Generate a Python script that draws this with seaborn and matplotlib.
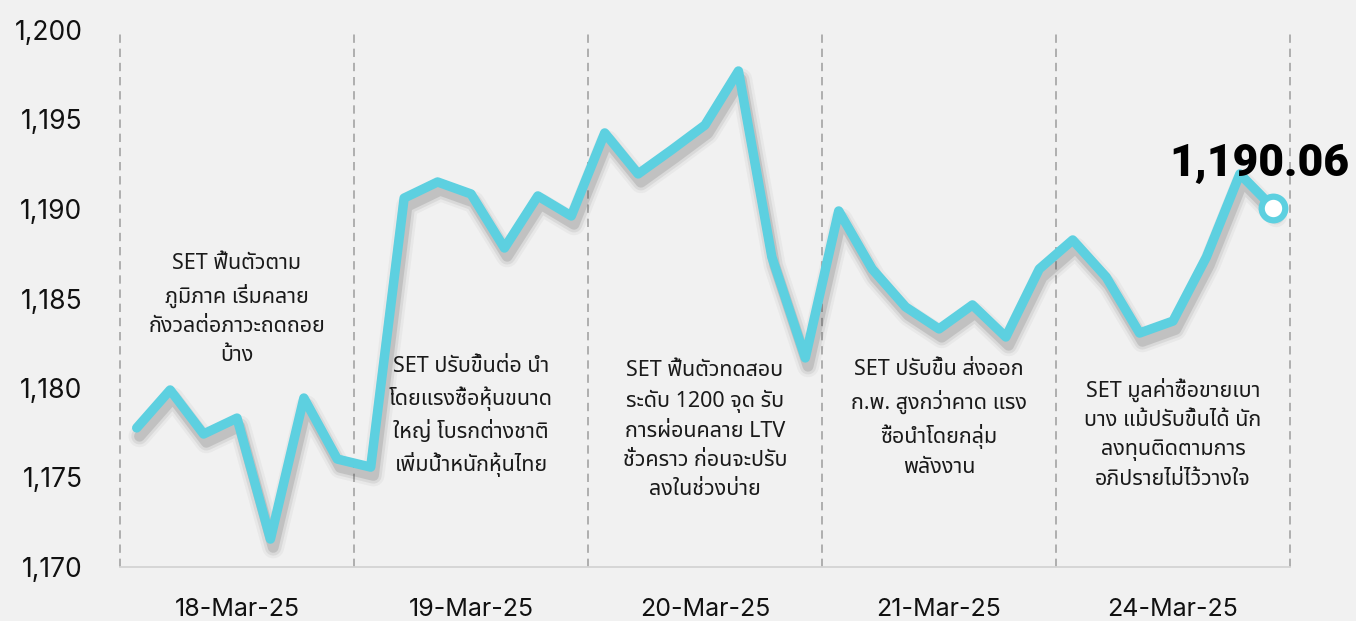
import numpy as np
import pandas as pd
import matplotlib
matplotlib.use("Agg")
import matplotlib.pyplot as plt
import matplotlib.patheffects as pe
from matplotlib import font_manager
from matplotlib.ft2font import FT2Font
import seaborn as sns

# ---------------- data ----------------
days = ["18-Mar-25", "19-Mar-25", "20-Mar-25", "21-Mar-25", "24-Mar-25"]
points_per_day = 7
set_index = [1177.77, 1179.89, 1177.43, 1178.32, 1171.56, 1179.44, 1176.03,
             1175.58, 1190.61, 1191.51, 1190.84, 1187.82, 1190.73, 1189.61,
             1194.25, 1191.96, 1193.30, 1194.69, 1197.71, 1187.32, 1181.68,
             1189.89, 1186.65, 1184.53, 1183.30, 1184.64, 1182.85, 1186.65,
             1188.27, 1186.20, 1183.07, 1183.74, 1187.32, 1191.96, 1190.06]
notes = [
    "SET ฟื้นตัวตาม\nภูมิภาค เริ่มคลาย\nกังวลต่อภาวะถดถอย\nบ้าง",
    "SET ปรับขึ้นต่อ นำ\nโดยแรงซื้อหุ้นขนาด\nใหญ่ โบรกต่างชาติ\nเพิ่มน้ำหนักหุ้นไทย",
    "SET ฟื้นตัวทดสอบ\nระดับ 1200 จุด รับ\nการผ่อนคลาย LTV\nชั่วคราว ก่อนจะปรับ\nลงในช่วงบ่าย",
    "SET ปรับขึ้น ส่งออก\nก.พ. สูงกว่าคาด แรง\nซื้อนำโดยกลุ่ม\nพลังงาน",
    "SET มูลค่าซื้อขายเบา\nบาง แม้ปรับขึ้นได้ นัก\nลงทุนติดตามการ\nอภิปรายไม่ไว้วางใจ",
]
note_levels = [1184.4, 1178.4, 1177.65, 1178.3, 1177.45]
y_ticks = [1170, 1175, 1180, 1185, 1190, 1195, 1200]
last_label = "1,190.06"

# ---------------- fonts ----------------
def find_thai_font():
    prefs = []
    for f in font_manager.fontManager.ttflist:
        try:
            cm = FT2Font(f.fname).get_charmap()
        except Exception:
            continue
        if 0x0E01 in cm and 0x0E49 in cm and 0x0E33 in cm:
            prefs.append(f.name)
    order = ["Noto Sans Thai", "Noto Sans Thai UI", "Sarabun", "Kanit", "Prompt",
             "Loma", "Garuda", "Umpush", "Waree", "Laksaman"]
    for o in order:
        if o in prefs:
            return o
    return prefs[0] if prefs else None

thai = find_thai_font()

BG = "#f1f1f1"
CYAN = "#5dd0e0"

sns.set_theme(style="white", rc={"axes.facecolor": BG, "figure.facecolor": BG})
fams = ([thai] if thai else []) + ["Inter", "DejaVu Sans"]
plt.rcParams["font.family"] = fams

fig = plt.figure(figsize=(13.56, 6.21), dpi=100)
ax = fig.add_axes([120 / 1356, 1 - 567 / 621, 1170 / 1356, 537 / 621])

df = pd.DataFrame({"idx": np.arange(len(set_index)), "value": set_index})

lw = 6.8
sns.lineplot(data=df, x="idx", y="value", ax=ax, color=CYAN, linewidth=lw,
             solid_joinstyle="round", solid_capstyle="round", zorder=5)
line = ax.lines[-1]
line.set_path_effects([
    pe.SimpleLineShadow(offset=(2, -6), shadow_color="k", alpha=0.04, linewidth=lw + 9),
    pe.SimpleLineShadow(offset=(2, -6), shadow_color="k", alpha=0.07, linewidth=lw + 5),
    pe.SimpleLineShadow(offset=(2, -6), shadow_color="k", alpha=0.12, linewidth=lw + 1),
    pe.Normal(),
])

# last point marker
ax.plot([df["idx"].iloc[-1]], [df["value"].iloc[-1]], marker="o", markersize=17,
        markerfacecolor="white", markeredgecolor=CYAN, markeredgewidth=4.5,
        linestyle="none", zorder=6)

n = len(set_index)
ax.set_xlim(-0.5, n - 0.5)
ax.set_ylim(1170, 1200)

# day separators
for b in np.arange(-0.5, n, points_per_day):
    ax.axvline(b, ymin=0, ymax=1, color="#a3a3a3", linewidth=1.2,
               linestyle=(0, (5, 3.5)), clip_on=False, zorder=2)

# ticks
centers = [d * points_per_day + (points_per_day - 1) / 2 for d in range(len(days))]
ax.set_xticks(centers)
ax.set_xticklabels(days, fontsize=18, color="#111111", family=["Inter", "DejaVu Sans"])
ax.set_yticks(y_ticks)
ax.set_yticklabels([f"{v:,}" for v in y_ticks], fontsize=19, color="#111111",
                   family=["Inter", "DejaVu Sans"])
ax.tick_params(axis="x", length=0, pad=22)
ax.tick_params(axis="y", length=0, pad=27)
ax.set_xlabel("")
ax.set_ylabel("")
for s in ["top", "right", "left"]:
    ax.spines[s].set_visible(False)
ax.spines["bottom"].set_color("#d4d4d4")
ax.spines["bottom"].set_linewidth(1.3)
ax.grid(False)

# notes
for c, lvl, t in zip(centers, note_levels, notes):
    ax.text(c, lvl, t, ha="center", va="center", multialignment="center",
            fontsize=15.5, color="#1a1a1a", linespacing=1.5, zorder=4)

# last value label
ax.annotate(last_label, xy=(df["idx"].iloc[-1], df["value"].iloc[-1]),
            xytext=(-10, 32), textcoords="offset points", ha="center", va="center",
            fontsize=32, fontweight="black", color="black",
            family=["Roboto", "DejaVu Sans"], zorder=7)

fig.savefig("out.png", dpi=100, facecolor=BG)
